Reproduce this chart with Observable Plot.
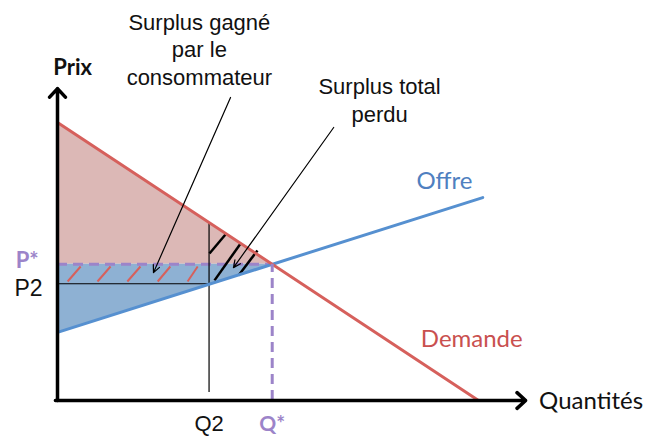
<!DOCTYPE html>
<html>
<head>
<meta charset="utf-8">
<script src="https://cdn.jsdelivr.net/npm/d3@7"></script>
<script src="https://cdn.jsdelivr.net/npm/@observablehq/plot@0.6"></script>
<style>
  html, body { margin: 0; padding: 0; background: #fff; }
  #chart svg { display: block; }
</style>
</head>
<body>
<div id="chart"></div>
<script>
// ---- Data (abstract units: quantity 0–100, price 0–100) ----
const demandQ = [0, 100];
const demandP = [100, 0];
const supplyQ = [0, 101];
const supplyP = [24.5, 73];
const Qstar = 51, Pstar = 49;   // equilibrium
const Q2 = 36, P2 = 42;         // new quantity / price
const axisMaxQ = 111.2, axisMaxP = 112.2;

// red hatches ("surplus gagné")
const redHatchQ1 = [2.4, 9.5, 16.6, 23.8, 30.9];
const redHatchQ2 = [5.5, 12.6, 19.7, 26.8, 33.3];
const redHatchP1 = 42.8, redHatchP2 = 48.2;
// black hatches ("surplus total perdu")
const blackHatchQ1 = [36.1, 37.3, 43.0];
const blackHatchP1 = [52.9, 43.2, 45.0];
const blackHatchQ2 = [39.9, 43.5, 47.5];
const blackHatchP2 = [59.7, 56.5, 54.0];

// annotation arrows
const annotFromQ = [41.1, 65.6], annotFromP = [109, 98.2];
const annotToQ = [22.8, 41.8], annotToP = [46, 47.8];

// labels
const annotTexts = ["Surplus gagné\npar le\nconsommateur", "Surplus total\nperdu"];
const annotQ = [33.7, 76.5], annotP = [140.3, 117.2];

// ---- helpers ----
const lin = (qs, ps) => q => ps[0] + (ps[1] - ps[0]) * (q - qs[0]) / (qs[1] - qs[0]);
const demand = lin(demandQ, demandP);
const supply = lin(supplyQ, supplyP);

const demandPts = demandQ.map((q, i) => ({q, p: demandP[i]}));
const supplyPts = supplyQ.map((q, i) => ({q, p: supplyP[i]}));
const surplusQ = [0, Qstar];
const pinkArea = surplusQ.map(q => ({q, top: demand(q), bottom: Pstar}));
const blueArea = surplusQ.map(q => ({q, top: Pstar, bottom: supply(q)}));
const redHatches = redHatchQ1.map((q, i) => ({x1: q, y1: redHatchP1, x2: redHatchQ2[i], y2: redHatchP2}));
const blackHatches = blackHatchQ1.map((q, i) => ({x1: q, y1: blackHatchP1[i], x2: blackHatchQ2[i], y2: blackHatchP2[i]}));
const annotArrows = annotFromQ.map((q, i) => ({x1: q, y1: annotFromP[i], x2: annotToQ[i], y2: annotToP[i]}));
const annots = annotTexts.map((t, i) => ({t, q: annotQ[i], p: annotP[i]}));

const RED = "#d6605c", BLUE = "#5690d0", PURPLE = "#9c84c9";
const PINK_FILL = "#dcb8b6", BLUE_FILL = "#8eb1d3";
const SANS = "Liberation Sans, Arial, sans-serif";
const CAL = "Lato, sans-serif";

const chart = Plot.plot({
  width: 653,
  height: 437,
  margin: 0,
  x: {domain: [0, 100], range: [57, 478], axis: null},
  y: {domain: [0, 100], range: [400, 122], axis: null},
  marks: [
    Plot.areaY(pinkArea, {x: "q", y1: "bottom", y2: "top", fill: PINK_FILL}),
    Plot.areaY(blueArea, {x: "q", y1: "bottom", y2: "top", fill: BLUE_FILL}),
    Plot.link(redHatches, {x1: "x1", y1: "y1", x2: "x2", y2: "y2", stroke: RED, strokeWidth: 2}),
    Plot.ruleY([Pstar], {x1: 0, x2: Qstar, stroke: PURPLE, strokeWidth: 3, strokeDasharray: "10,6"}),
    Plot.ruleY([P2], {x1: 0, x2: Q2, stroke: "#000", strokeWidth: 1.2}),
    Plot.ruleX([Q2], {y1: 2.9, y2: demand(Q2), stroke: "#000", strokeWidth: 1.2}),
    Plot.link(blackHatches, {x1: "x1", y1: "y1", x2: "x2", y2: "y2", stroke: "#000", strokeWidth: 2.5}),
    Plot.line(supplyPts, {x: "q", y: "p", stroke: BLUE, strokeWidth: 3}),
    Plot.line(demandPts, {x: "q", y: "p", stroke: RED, strokeWidth: 3}),
    Plot.ruleX([Qstar], {y1: 0, y2: Pstar, stroke: PURPLE, strokeWidth: 3, strokeDasharray: "10,6"}),
    // axes
    Plot.arrow([{x1: 0, y1: 0, x2: 0, y2: axisMaxP}, {x1: -0.5, y1: 0, x2: axisMaxQ, y2: 0}],
      {x1: "x1", y1: "y1", x2: "x2", y2: "y2", stroke: "#000", strokeWidth: 3.5, headLength: 5, headAngle: 85}),
    // annotation arrows
    Plot.arrow(annotArrows, {x1: "x1", y1: "y1", x2: "x2", y2: "y2", stroke: "#000", strokeWidth: 1.2, headLength: 10, headAngle: 50}),
    // texts
    Plot.text(annots, {x: "q", y: "p", text: "t", fontSize: 22, fontFamily: SANS, fill: "#111", lineHeight: 1.25, lineAnchor: "top"}),
    Plot.text(["Prix"], {x: 3.6, y: 119.6, fontSize: 22, fontFamily: CAL, fontWeight: 700, fill: "#111"}),
    Plot.text(["Quantités"], {x: 114.4, y: -0.2, textAnchor: "start", fontSize: 24, fontFamily: CAL, fill: "#111"}),
    Plot.text(["Offre"], {x: 91.9, y: 78.8, fontSize: 24, fontFamily: CAL, fill: "#4f80c0"}),
    Plot.text(["Demande"], {x: 98.4, y: 21.9, fontSize: 24, fontFamily: CAL, fill: "#c9504f"}),
    Plot.text(["P*"], {x: -7.2, y: 50.3, fontSize: 22, fontFamily: CAL, fontWeight: 700, fill: PURPLE}),
    Plot.text(["P2"], {x: -6.9, y: 40.3, fontSize: 23, fontFamily: SANS, fill: "#111"}),
    Plot.text(["Q2"], {x: Q2, y: -8.6, fontSize: 22, fontFamily: SANS, fill: "#111"}),
    Plot.text(["Q*"], {x: Qstar, y: -8.6, fontSize: 21, fontFamily: CAL, fontWeight: 700, fill: PURPLE})
  ]
});
document.getElementById("chart").appendChild(chart);
</script>
</body>
</html>
